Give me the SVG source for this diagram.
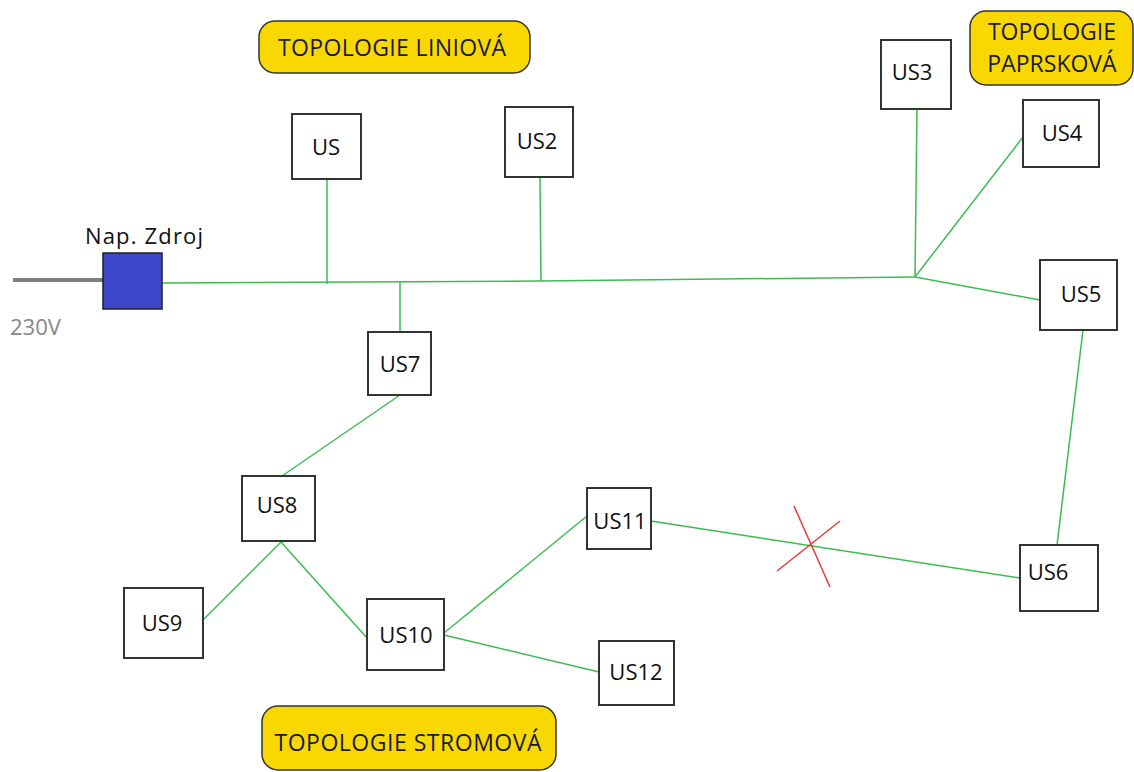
<svg xmlns="http://www.w3.org/2000/svg" width="1134" height="772" viewBox="0 0 1134 772">
<style>
.n{fill:#fff;stroke:#333;stroke-width:2}
.t{font-family:"Open Sans","Liberation Sans",sans-serif;font-size:22px;fill:#111}
.c{stroke:#3cbc50;stroke-width:1.5;fill:none}
.y{fill:#f8d800;stroke:#333;stroke-width:1.5}
.yt{font-family:"Open Sans","Liberation Sans",sans-serif;font-size:23px;fill:#1a1a40}
</style>
<rect width="1134" height="772" fill="#fff"/>
<g id="connectors">
<line x1="13" y1="280" x2="104" y2="280" stroke="#808080" stroke-width="4"/>
<polyline class="c" points="162,283 540,281 915,277"/>
<line class="c" x1="327" y1="179" x2="327" y2="284"/>
<line class="c" x1="540" y1="177" x2="541" y2="281"/>
<line class="c" x1="917" y1="109" x2="915" y2="277"/>
<line class="c" x1="1023" y1="137" x2="915" y2="277"/>
<line class="c" x1="915" y1="277" x2="1040" y2="300"/>
<line class="c" x1="400" y1="282" x2="400" y2="332"/>
<line class="c" x1="1083" y1="330" x2="1057" y2="545"/>
<line class="c" x1="1020" y1="578" x2="651" y2="521"/>
<line class="c" x1="400" y1="395" x2="282" y2="476"/>
<line class="c" x1="281" y1="542" x2="203" y2="620"/>
<line class="c" x1="281" y1="542" x2="367" y2="638"/>
<line class="c" x1="444" y1="633" x2="587" y2="516"/>
<line class="c" x1="444" y1="635" x2="599" y2="672"/>
<line x1="794" y1="506" x2="830" y2="587" stroke="#e83a3a" stroke-width="1.5"/>
<line x1="777" y1="571" x2="840" y2="521" stroke="#e83a3a" stroke-width="1.5"/>
</g>
<g id="src">
<rect x="103" y="253" width="59" height="56" fill="#3e47c9" stroke="#222" stroke-width="1.5"/>
<text class="t" x="85" y="244" textLength="118">Nap. Zdroj</text>
<text class="t" x="10" y="335" style="fill:#888">230V</text>
</g>
<g id="label-liniova">
<rect class="y" x="259" y="21" width="271" height="52" rx="16"/>
<text class="yt" x="392" y="56" text-anchor="middle" textLength="228">TOPOLOGIE LINIOVÁ</text>
</g>
<g id="label-paprskova">
<rect class="y" x="970" y="11" width="163" height="74" rx="16"/>
<text class="yt" x="1052" y="40" text-anchor="middle">TOPOLOGIE</text>
<text class="yt" x="1052" y="72" text-anchor="middle">PAPRSKOVÁ</text>
</g>
<g id="label-stromova">
<rect class="y" x="262" y="706" width="294" height="64" rx="16"/>
<text class="yt" x="408" y="751" text-anchor="middle" textLength="267">TOPOLOGIE STROMOVÁ</text>
</g>
<g id="US"><rect class="n" x="292" y="114" width="69" height="65"/><text class="t" x="326" y="155" text-anchor="middle">US</text></g>
<g id="US2"><rect class="n" x="505" y="107" width="68" height="70"/><text class="t" x="537" y="149" text-anchor="middle">US2</text></g>
<g id="US3"><rect class="n" x="881" y="40" width="70" height="69"/><text class="t" x="912" y="80" text-anchor="middle">US3</text></g>
<g id="US4"><rect class="n" x="1023" y="100" width="76" height="67"/><text class="t" x="1062" y="141" text-anchor="middle">US4</text></g>
<g id="US5"><rect class="n" x="1040" y="260" width="77" height="70"/><text class="t" x="1081" y="302" text-anchor="middle">US5</text></g>
<g id="US6"><rect class="n" x="1020" y="545" width="78" height="66"/><text class="t" x="1048" y="580" text-anchor="middle">US6</text></g>
<g id="US7"><rect class="n" x="368" y="332" width="63" height="63"/><text class="t" x="400" y="372" text-anchor="middle">US7</text></g>
<g id="US8"><rect class="n" x="242" y="476" width="73" height="65"/><text class="t" x="277" y="513" text-anchor="middle">US8</text></g>
<g id="US9"><rect class="n" x="124" y="588" width="79" height="70"/><text class="t" x="162" y="631" text-anchor="middle">US9</text></g>
<g id="US10"><rect class="n" x="367" y="599" width="77" height="71"/><text class="t" x="406" y="643" text-anchor="middle">US10</text></g>
<g id="US11"><rect class="n" x="587" y="488" width="64" height="61"/><text class="t" x="620" y="529" text-anchor="middle">US11</text></g>
<g id="US12"><rect class="n" x="599" y="641" width="75" height="64"/><text class="t" x="636" y="680" text-anchor="middle">US12</text></g>
</svg>
